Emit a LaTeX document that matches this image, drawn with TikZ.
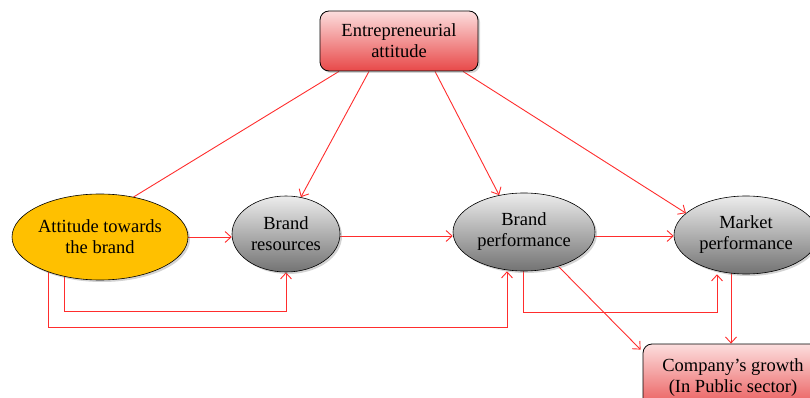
\documentclass[tikz,border=0pt]{standalone}
\usepackage{fontspec}
\setmainfont{Liberation Serif}
\usetikzlibrary{arrows.meta,shadows,calc,shapes.geometric}
\pgfdeclarelayer{background}
\pgfsetlayers{background,main}
\definecolor{linered}{RGB}{255,45,45}
\definecolor{pinktop}{RGB}{252,222,222}
\definecolor{redbot}{RGB}{232,72,72}
\definecolor{graytop}{RGB}{236,236,236}
\definecolor{graybot}{RGB}{115,115,115}
\definecolor{orange}{RGB}{255,192,0}
\tikzset{
  txt/.style={font=\fontsize{18.5}{21}\selectfont, align=center, inner sep=0pt},
  ebox/.style={txt, draw=black, line width=0.8pt, rounded corners=9pt, top color=pinktop, bottom color=redbot,
     drop shadow={opacity=0.35, shadow xshift=2pt, shadow yshift=-2pt}},
  grayell/.style={txt, ellipse, inner xsep=-25pt, inner ysep=-10pt, draw=black, line width=0.6pt, top color=graytop, bottom color=graybot,
     drop shadow={opacity=0.35, shadow xshift=2pt, shadow yshift=-2pt}},
  orangeell/.style={txt, ellipse, inner xsep=-25pt, inner ysep=-10pt, draw=black, line width=0.6pt, fill=orange,
     drop shadow={opacity=0.35, shadow xshift=2pt, shadow yshift=-2pt}},
  conn/.style={draw=linered, line width=0.9pt},
  arr/.style={conn, -{Straight Barb[length=6pt,width=11pt]}},
}
\begin{document}
\begin{tikzpicture}[x=1pt,y=-1pt]
\useasboundingbox (0,0) rectangle (810,398);
\clip (0,0) rectangle (810,398);
\node[ebox, minimum width=158pt, minimum height=60pt] (ent) at (399,41) {Entrepreneurial\\attitude};
\node[orangeell, minimum width=176pt, minimum height=86pt] (att) at (100,237) {Attitude towards\\the brand};
\node[grayell, minimum width=108pt, minimum height=76pt] (res) at (286,234) {Brand\\resources};
\node[grayell, minimum width=142pt, minimum height=78pt] (perf) at (524,232) {Brand\\performance};
\node[grayell, minimum width=144pt, minimum height=78pt] (mkt) at (746,235) {Market\\performance};
\node[ebox, minimum width=180pt, minimum height=72pt, text depth=8pt] (grow) at (733,380) {Company’s growth\\(In Public sector)};
\begin{pgfonlayer}{background}
\draw[conn] ([xshift=-60pt]ent.south) -- (att.50);
\draw[arr] ([xshift=-30pt]ent.south) -- (res.68);
\draw[arr] ([xshift=36pt]ent.south) -- (perf.124);
\draw[arr] ([xshift=64pt]ent.south) -- (mkt.160);
\draw[arr] (att.east) -- (att.east -| res.west);
\draw[arr] ([yshift=-2pt]res.east) -- ([yshift=-2pt]res.east -| perf.west);
\draw[arr] ([yshift=-4pt]perf.east) -- ([yshift=-4pt]perf.east -| mkt.west);
\draw[arr] ([xshift=-36pt]att.center) -- ++(0,74) -| (res.south);
\draw[arr] ([xshift=-52pt]att.center) -- ++(0,90) -| ([xshift=-17pt]perf.south);
\draw[arr] ([xshift=-1pt]perf.center) -- ++(0,80) -| ([xshift=-29pt]mkt.south);
\draw[arr] (perf.-45) -- ($(grow.north west)+(-2,6)$);
\draw[arr] ([xshift=-15pt]mkt.center) -- ([xshift=-15pt]mkt.center |- grow.north);
\end{pgfonlayer}
\end{tikzpicture}
\end{document}
